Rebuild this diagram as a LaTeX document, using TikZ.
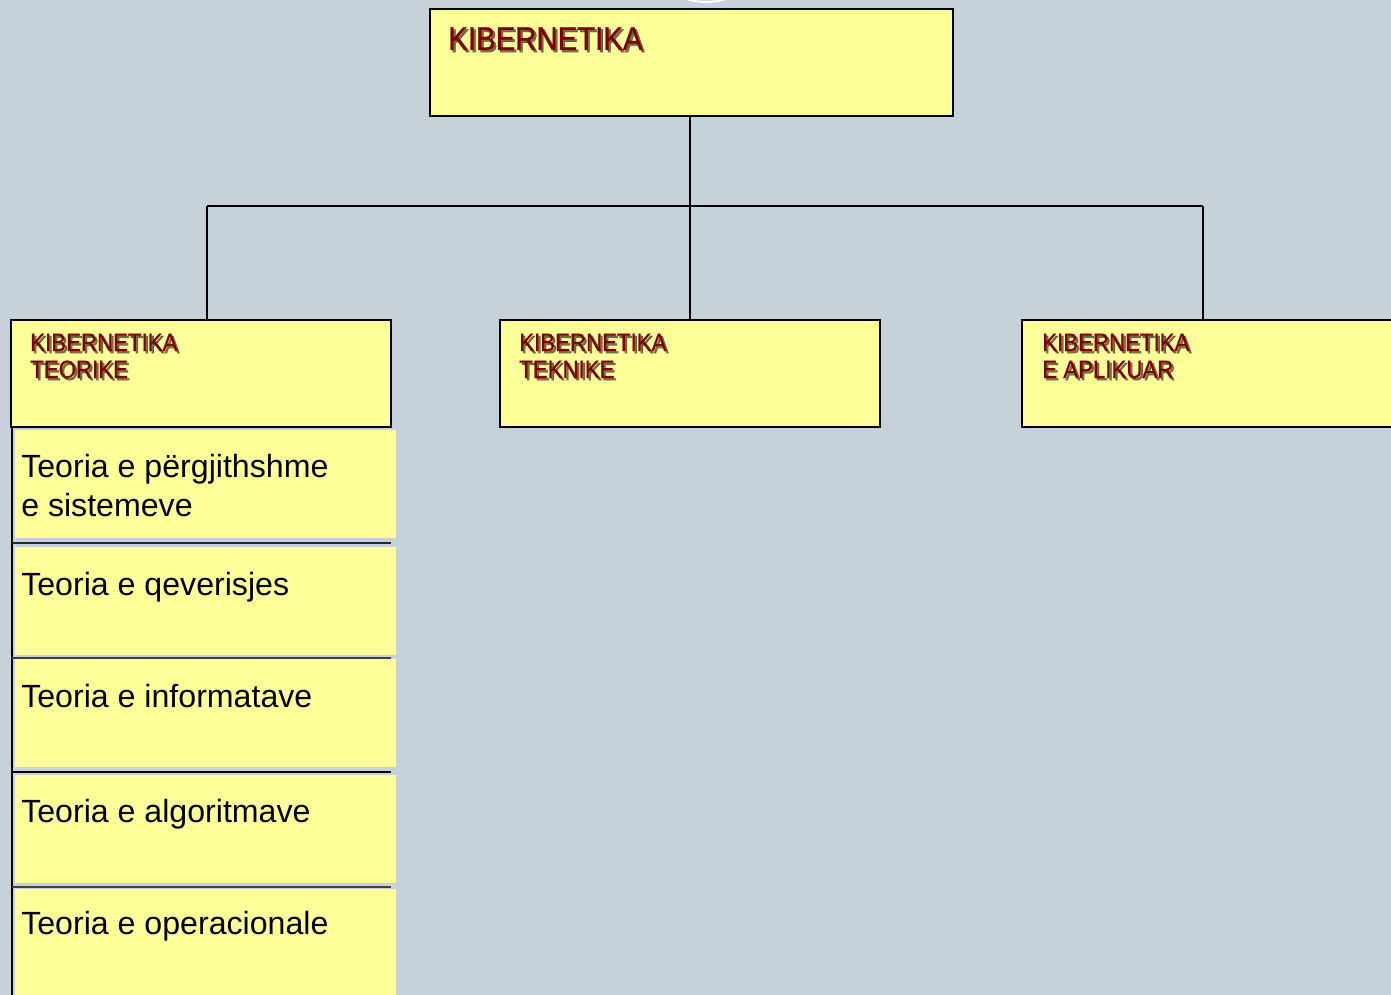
\documentclass[tikz,border=0pt]{standalone}
\usepackage{fontspec}
\setmainfont{Liberation Sans}
\newfontfamily\hdrfont[FakeStretch=0.89,FakeBold=0.8]{Liberation Sans}
\usetikzlibrary{calc}
\definecolor{bg}{RGB}{198,209,217}
\definecolor{boxy}{RGB}{255,255,153}
\definecolor{hdrred}{RGB}{128,0,0}
\newcommand\shtxt[4]{%
  \node[#4,text=black,opacity=0.55,anchor=base west] (#1s) at ($(#2)+(2.2,2.2)$) {#3};
  \node[#4,anchor=base west] (#1) at (#2) {#3};}
\begin{document}
\begin{tikzpicture}[x=0.75pt,y=-0.75pt,
  hbox/.style={draw=black,line width=1.5pt,fill=boxy,inner sep=0pt,minimum width=285pt,minimum height=80.25pt},
  ibox/.style={fill=boxy,inner sep=0pt,minimum width=285.75pt,minimum height=81pt},
  conn/.style={draw=black,line width=1.4pt},
  sep/.style={draw=black!85,line width=1.1pt},
  bigh/.style={font=\hdrfont\fontsize{24.75pt}{28pt}\selectfont,text=hdrred,inner sep=0pt},
  smallh/.style={font=\hdrfont\fontsize{18.75pt}{21pt}\selectfont,text=hdrred,inner sep=0pt},
  itxt/.style={font=\fontsize{24.1pt}{29pt}\selectfont,text=black,inner sep=0pt,anchor=base west}]
\fill[bg] (0,0) rectangle (1391,995);
\useasboundingbox (0,0) rectangle (1391,995);
\draw[white,line width=1.5pt] (706,-63) circle[radius=65];
% boxes
\node[hbox,minimum width=392.25pt] (top) at (691.5,62.5) {};
\node[hbox] (teo) at (201,373) {};
\node[hbox] (tek) at (690,373.5) {};
\node[hbox] (apl) at (1212,373.5) {};
% connectors
\coordinate (b1) at (207,206);
\coordinate (b3) at (1203,206);
\draw[conn] (top.south -| tek.north) -- (tek.north);
\draw[conn] (b1) -- (b3);
\draw[conn] (b1) -- (b1 |- teo.north);
\draw[conn] (b3) -- (b3 |- apl.north);
% items
\node[ibox] (i1) at (205.5,484) {};
\node[ibox] (i2) at (205.5,601) {};
\node[ibox] (i3) at (205.5,713) {};
\node[ibox] (i4) at (205.5,829) {};
\node[ibox,minimum height=83.25pt] (i5) at (205.5,944.5) {};
\draw[black,line width=1.5pt] (12,426) -- (12,996);
\draw[sep] (12,543) -- (391,543);
\draw[sep,draw=black!75,line width=0.9pt] (12,658) -- (391,658);
\draw[sep,draw=black,line width=1.5pt] (12,772) -- (391,772);
\draw[sep,draw=black!75,line width=0.9pt] (12,887) -- (391,887);
% header texts
\shtxt{ttop}{448,50}{KIBERNETIKA}{bigh}
\shtxt{teo1}{30,351}{KIBERNETIKA}{smallh}
\shtxt{teo2}{30,378}{TEORIKE}{smallh}
\shtxt{tek1}{519,351}{KIBERNETIKA}{smallh}
\shtxt{tek2}{519,378}{TEKNIKE}{smallh}
\shtxt{apl1}{1042,351}{KIBERNETIKA}{smallh}
\shtxt{apl2}{1042,378}{E APLIKUAR}{smallh}
% item texts
\node[itxt] (t1a) at (21,477) {Teoria e përgjithshme};
\node[itxt] (t1b) at (21,516) {e sistemeve};
\node[itxt] (t2) at (21,595) {Teoria e qeverisjes};
\node[itxt] (t3) at (21,707) {Teoria e informatave};
\node[itxt] (t4) at (21,822) {Teoria e algoritmave};
\node[itxt] (t5) at (21,934) {Teoria e operacionale};
\end{tikzpicture}
\end{document}
